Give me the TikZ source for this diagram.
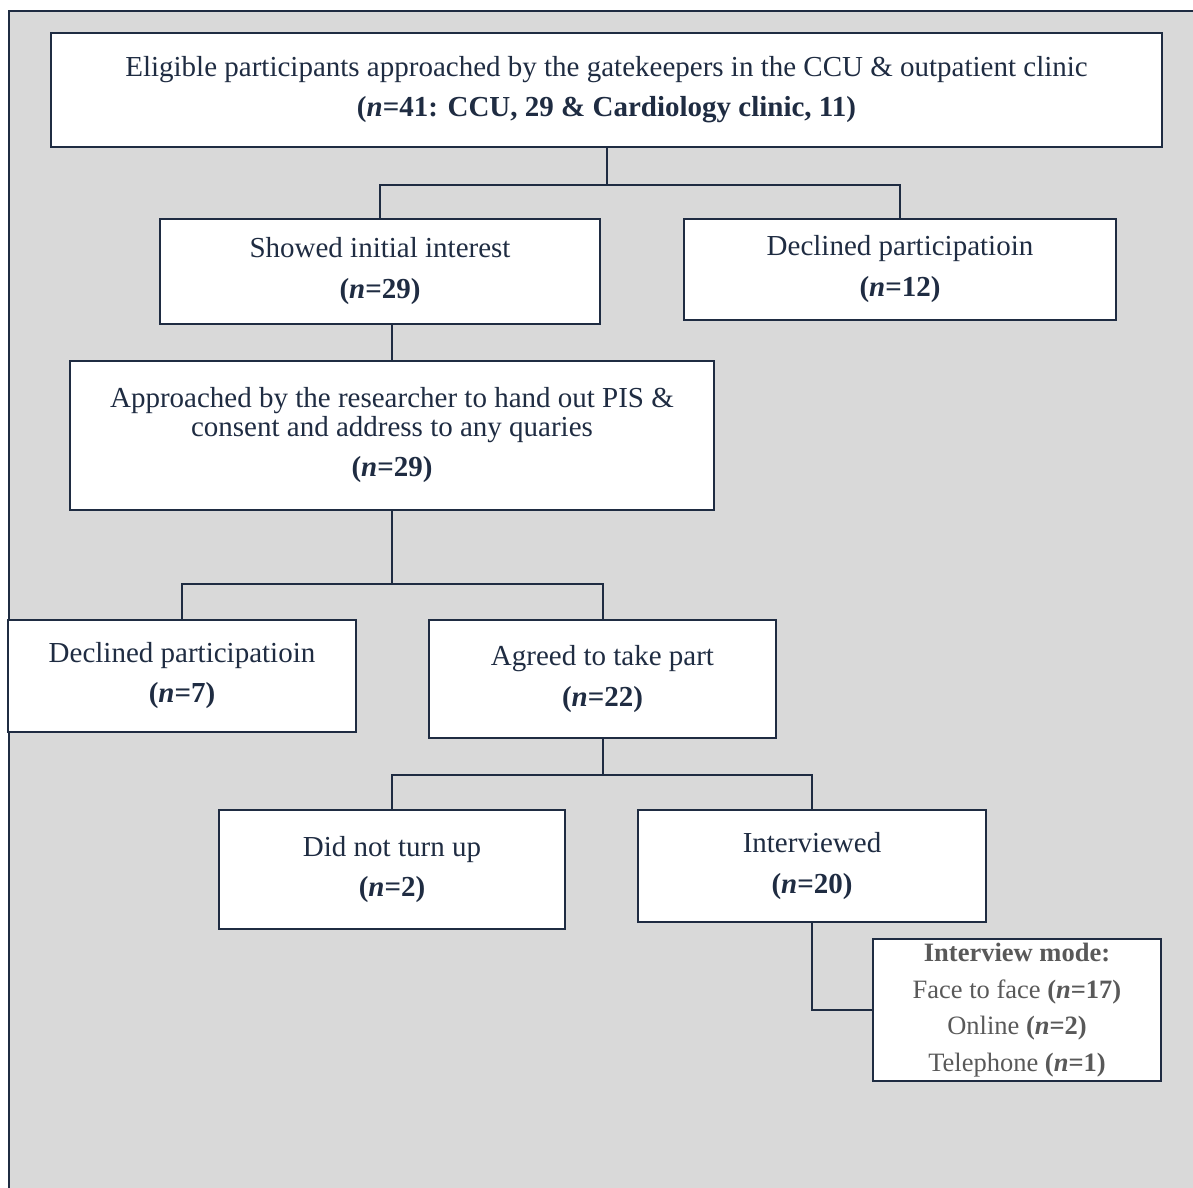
\documentclass[tikz,border=0pt]{standalone}
\usepackage{fontspec}
\setmainfont{Liberation Serif}
\definecolor{navy}{RGB}{31,44,66}
\definecolor{panel}{RGB}{217,217,217}
\definecolor{modegray}{RGB}{89,89,89}
\newcommand{\nn}[1]{\textbf{(\textit{n}=#1)}}
\tikzset{
  box/.style={draw=navy, line width=2pt, fill=white, inner sep=0pt,
    align=center, text=navy, font=\fontsize{29}{29}\selectfont},
  link/.style={draw=navy, line width=2pt},
}

\begin{document}
\begin{tikzpicture}[x=1pt, y=-1pt]
  \useasboundingbox (0,0) rectangle (1193,1187);
  \fill[panel] (9,11) rectangle (1210,1205);
  \draw[navy, line width=2.5pt] (9,1205) -- (9,11) -- (1210,11);

  % boxes
  \node[box, minimum width=1111pt, minimum height=114pt] (elig) at (606.5,90)
    {\rule{0pt}{4pt}Eligible participants approached by the gatekeepers in the CCU \& outpatient clinic\\[11pt]
     \textbf{(\textit{n}=41: CCU, 29 \& Cardiology clinic, 11)}};
  \node[box, minimum width=440pt, minimum height=105pt] (showed) at (380,271.5)
    {Showed initial interest\\[12pt] \nn{29}};
  \node[box, minimum width=432pt, minimum height=101pt] (declA) at (900,269.5)
    {Declined participatioin\\[12pt] \nn{12}};
  \node[box, minimum width=644pt, minimum height=149pt] (approach) at (392,435.5)
    {Approached by the researcher to hand out PIS \&\\ consent and address to any quaries\\[11pt] \nn{29}};
  \node[box, minimum width=348pt, minimum height=112pt] (declB) at (182,676)
    {Declined participatioin\\[11pt] \nn{7}};
  \node[box, minimum width=347pt, minimum height=118pt] (agreed) at (602.5,679)
    {Agreed to take part\\[12pt] \nn{22}};
  \node[box, minimum width=346pt, minimum height=119pt] (noshow) at (392,869.5)
    {Did not turn up\\[11pt] \nn{2}};
  \node[box, minimum width=348pt, minimum height=112pt] (interv) at (812,866)
    {Interviewed\\[12pt] \nn{20}};
  \node[box, minimum width=288pt, minimum height=142pt, text=modegray,
    font=\fontsize{26.5}{36.5}\selectfont] (mode) at (1017,1010)
    {\textbf{Interview mode:}\\ Face to face \nn{17}\\ Online \nn{2}\\ Telephone \nn{1}};

  % connectors
  \draw[link] (elig.south) -- ++(0,37) coordinate (split1) -| (showed.north);
  \draw[link] (split1) -| (declA.north);
  \draw[link] (approach.north) -- (approach.north |- showed.south);
  \draw[link] (approach.south) -- ++(0,73) coordinate (split2) -| (declB.north);
  \draw[link] (split2) -| (agreed.north);
  \draw[link] (agreed.south) -- ++(0,36) coordinate (split3) -| (noshow.north);
  \draw[link] (split3) -| (interv.north);
  \draw[link] (interv.south) |- (mode.west);
\end{tikzpicture}
\end{document}
